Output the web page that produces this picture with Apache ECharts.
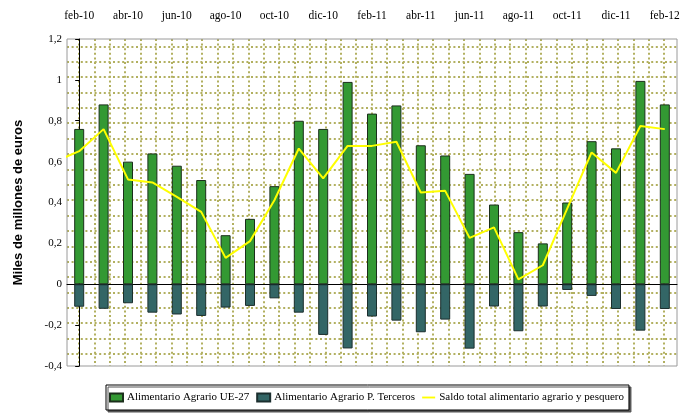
<!DOCTYPE html>
<html>
<head>
<meta charset="utf-8">
<script src="https://cdn.jsdelivr.net/npm/echarts@6/dist/echarts.min.js"></script>
<style>
* { margin: 0; padding: 0; }
#chart-container { width: 693px; height: 418px; background: #fff; }
</style>
</head>
<body>
<div id="chart-container"></div>
<script>
const months = ['feb-10', 'mar-10', 'abr-10', 'may-10', 'jun-10', 'jul-10', 'ago-10', 'sep-10', 'oct-10', 'nov-10', 'dic-10',
  'ene-11', 'feb-11', 'mar-11', 'abr-11', 'may-11', 'jun-11', 'jul-11', 'ago-11', 'sep-11', 'oct-11', 'nov-11', 'dic-11',
  'ene-12', 'feb-12']
const ue27 = [0.76, 0.88, 0.60, 0.64, 0.58, 0.51, 0.24, 0.32, 0.48, 0.80, 0.76, 0.99, 0.835,
  0.875, 0.68, 0.63, 0.54, 0.39, 0.255, 0.20, 0.40, 0.70, 0.665, 0.995, 0.88]
const terceros = [-0.11, -0.12, -0.093, -0.139, -0.148, -0.155, -0.114, -0.106, -0.069, -0.139, -0.248, -0.314, -0.158,
  -0.178, -0.235, -0.173, -0.315, -0.109, -0.23, -0.109, -0.028, -0.057, -0.121, -0.227, -0.121]
// saldo total; the first value is ene-10, only its segment into the plot shows
const saldo = [0.60, 0.651, 0.759, 0.513, 0.498, 0.428, 0.354, 0.129, 0.211, 0.411, 0.664, 0.518, 0.677,
  0.677, 0.697, 0.449, 0.457, 0.227, 0.278, 0.024, 0.093, 0.37, 0.645, 0.545, 0.774, 0.759]
const yTicks = [-0.4, -0.2, 0, 0.2, 0.4, 0.6, 0.8, 1, 1.2]

const serif = 'Liberation Serif'
const gridBox = { left: 67, top: 39, right: 16, bottom: 52 }

// dotted lattice fill of the plot area
const makeLattice = () => {
  const c = document.createElement('canvas')
  c.width = 693
  c.height = 418
  const ctx = c.getContext('2d')
  ctx.fillStyle = '#fff'
  ctx.fillRect(0, 0, c.width, c.height)
  ctx.strokeStyle = '#b2b060'
  ctx.lineWidth = 2
  ctx.setLineDash([2, 2.6])
  const x0 = gridBox.left, x1 = 693 - gridBox.right
  const y0 = gridBox.top, y1 = 418 - gridBox.bottom
  for (let x = x0 + 12.2; x < x1; x += 15.4) {
    ctx.beginPath()
    ctx.moveTo(Math.round(x), y0)
    ctx.lineTo(Math.round(x), y1)
    ctx.stroke()
  }
  for (let y = y0 + 7.6; y < y1; y += 15.38) {
    ctx.beginPath()
    ctx.moveTo(x0, Math.round(y))
    ctx.lineTo(x1, Math.round(y))
    ctx.stroke()
  }
  return c
}

const myChart = echarts.init(document.getElementById('chart-container'), null, { renderer: 'canvas' })

const option = {
  animation: false,
  textStyle: { fontFamily: serif },
  grid: {
    left: gridBox.left,
    top: gridBox.top,
    right: gridBox.right,
    bottom: gridBox.bottom,
    show: true,
    borderColor: '#9a9a9a',
    borderWidth: 1,
    backgroundColor: { image: makeLattice(), repeat: 'no-repeat' }
  },
  legend: {
    left: 106,
    top: 385,
    padding: [7, 5, 7, 3],
    itemGap: 7,
    itemWidth: 13,
    itemHeight: 8,
    backgroundColor: '#fff',
    borderColor: '#000',
    borderWidth: 1,
    shadowColor: '#555',
    shadowOffsetX: 2,
    shadowOffsetY: 2,
    shadowBlur: 0,
    textStyle: { fontFamily: serif, fontSize: 11, color: '#000', padding: [0, 0, 0, -1] },
    data: [
      { name: 'Alimentario Agrario UE-27', icon: 'rect' },
      { name: 'Alimentario Agrario P. Terceros', icon: 'rect' },
      { name: 'Saldo total alimentario agrario y pesquero', icon: 'path://M0,0 h14 v2 h-14 z' }
    ]
  },
  xAxis: [
    {
      type: 'category',
      data: months,
      axisLine: { onZero: true, lineStyle: { color: '#000', width: 1 } },
      axisTick: { interval: 1, length: 4, lineStyle: { color: '#000' } },
      axisLabel: { show: false },
      splitLine: { show: false }
    },
    {
      type: 'category',
      position: 'top',
      data: months,
      axisLine: { show: false },
      axisTick: { show: false },
      axisLabel: { interval: 1, margin: 17, fontFamily: serif, fontSize: 11.5, color: '#000' },
      splitLine: { show: false }
    },
    {
      type: 'value',
      min: -0.5,
      max: 24.5,
      show: false
    }
  ],
  yAxis: {
    type: 'value',
    min: yTicks[0],
    max: yTicks[yTicks.length - 1],
    interval: 0.2,
    name: 'Miles de millones de euros',
    nameLocation: 'middle',
    nameGap: 42,
    nameTextStyle: { fontFamily: 'Liberation Sans', fontWeight: 'bold', fontSize: 13, color: '#000' },
    axisLine: { show: true, lineStyle: { color: '#000' } },
    axisTick: { show: true, length: 4, lineStyle: { color: '#000' } },
    axisLabel: {
      margin: 5,
      fontFamily: serif,
      fontSize: 11,
      color: '#000',
      formatter: (v) => String(+v.toFixed(1)).replace('.', ',')
    },
    splitLine: { show: false }
  },
  series: [
    {
      name: 'Alimentario Agrario UE-27',
      type: 'bar',
      stack: 'comercio',
      barWidth: 10,
      data: ue27,
      itemStyle: { color: '#339933', borderColor: '#1b2e1b', borderWidth: 1 }
    },
    {
      name: 'Alimentario Agrario P. Terceros',
      type: 'bar',
      stack: 'comercio',
      barWidth: 10,
      data: terceros,
      itemStyle: { color: '#336666', borderColor: '#1b2e2e', borderWidth: 1 }
    },
    {
      name: 'Saldo total alimentario agrario y pesquero',
      type: 'line',
      xAxisIndex: 2,
      data: saldo.map((v, i) => [i - 1, v]),
      symbol: 'none',
      clip: true,
      z: 5,
      itemStyle: { color: '#ffff00' },
      lineStyle: { color: '#ffff00', width: 2 }
    }
  ]
}

myChart.setOption(option)
</script>
</body>
</html>
